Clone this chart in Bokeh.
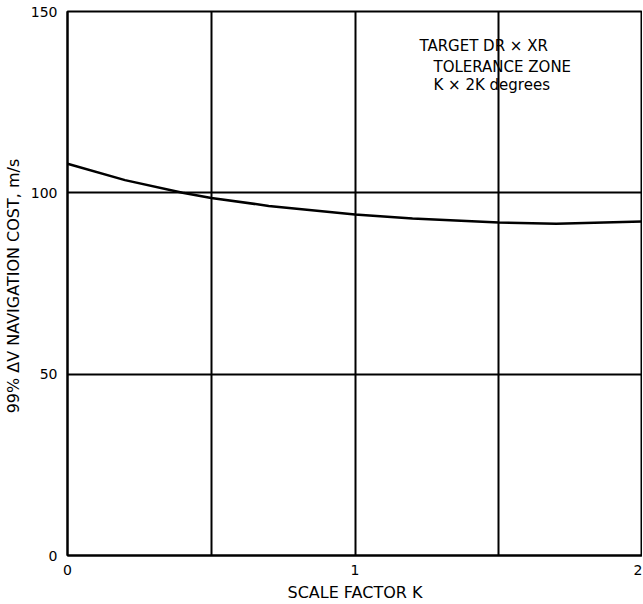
from bokeh.plotting import figure
from bokeh.models import FixedTicker, Label, Range1d
from bokeh.embed import file_html
from bokeh.resources import INLINE

# data
k_values = [0.0, 0.2, 0.4, 0.5, 0.7, 1.0, 1.2, 1.5, 1.7, 2.0]
dv_cost = [108.0, 103.5, 100.0, 98.6, 96.4, 94.0, 92.9, 91.8, 91.5, 92.1]
x_tick_values = [0, 1, 2]
y_tick_values = [0, 50, 100, 150]
x_grid_values = [0.5, 1.0, 1.5]
y_grid_values = [50, 100]
note_lines = ["TARGET DR \u00d7 XR", "TOLERANCE ZONE", "K \u00d7 2K degrees"]

FONT = "DejaVu Sans"

p = figure(width=642, height=604, output_backend="svg", toolbar_location=None,
           x_range=Range1d(0, 2), y_range=Range1d(0, 150),
           min_border_left=58, min_border_right=0, min_border_top=11, min_border_bottom=42)

p.outline_line_color = "black"
p.outline_line_width = 2
p.background_fill_color = "white"
p.border_fill_color = "white"

for ax in (p.xaxis[0], p.yaxis[0]):
    ax.major_tick_line_color = None
    ax.minor_tick_line_color = None
    ax.axis_line_color = "black"
    ax.axis_line_width = 2
    ax.major_label_text_font = FONT
    ax.major_label_text_font_size = "14px"
    ax.major_label_text_color = "black"
    ax.axis_label_text_font = FONT
    ax.axis_label_text_font_size = "16px"
    ax.axis_label_text_font_style = "normal"
    ax.axis_label_text_color = "black"

p.xaxis.ticker = FixedTicker(ticks=x_tick_values)
p.yaxis.ticker = FixedTicker(ticks=y_tick_values)
p.xaxis.major_label_standoff = 3
p.yaxis.major_label_standoff = 4
p.xaxis.axis_label = "SCALE FACTOR K"
p.yaxis.axis_label = "99% \u0394V NAVIGATION COST,  m/s"
p.xaxis.axis_label_standoff = 5
p.yaxis.axis_label_standoff = 5

p.xgrid.ticker = FixedTicker(ticks=x_grid_values)
p.ygrid.ticker = FixedTicker(ticks=y_grid_values)
for g in (p.xgrid[0], p.ygrid[0]):
    g.grid_line_color = "black"
    g.grid_line_width = 2
    g.grid_line_alpha = 1.0

p.line(k_values, dv_cost, line_color="black", line_width=2.5)

note_x = [1.224, 1.273, 1.273]
note_y = [140.6, 134.8, 129.6]
for txt, nx, ny in zip(note_lines, note_x, note_y):
    p.add_layout(Label(x=nx, y=ny, text=txt, text_font=FONT, text_font_size="15px",
                       text_color="black", text_baseline="middle", text_align="left"))

open("out.html", "w").write(file_html(p, INLINE))
